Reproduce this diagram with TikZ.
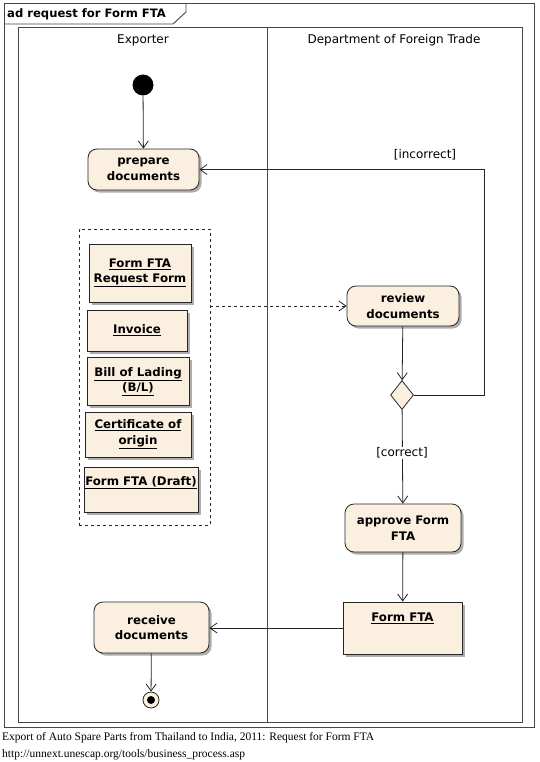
\documentclass[tikz,border=0pt]{standalone}
\usepackage{fontspec}
\setmainfont{DejaVu Sans}
\newfontfamily\capfont{Liberation Serif}
\usetikzlibrary{arrows.meta,shapes.geometric,shadows}
\definecolor{beige}{RGB}{251,240,224}
\definecolor{frameclr}{RGB}{70,70,70}
\tikzset{
  shd/.style={drop shadow={shadow xshift=2.5pt,shadow yshift=-2.5pt,fill=black!40,opacity=0.8}},
  action/.style={draw=black!85,line width=0.8pt,rounded corners=9pt,fill=beige,shd,
    inner sep=0pt,align=center,font=\bfseries\fontsize{11.8}{15.5}\selectfont},
  objbox/.style={draw=black!85,line width=0.8pt,fill=beige,shd,inner sep=0pt,
    align=center,font=\bfseries\fontsize{11.8}{15.5}\selectfont},
  objtxt/.style={inner sep=0pt,align=center,font=\bfseries\fontsize{11.8}{15.5}\selectfont},
  flow/.style={draw=black!85,line width=0.8pt,-{Straight Barb[length=7pt,width=10pt]}},
  guard/.style={font=\fontsize{12}{14}\selectfont,inner sep=1pt},
  lanehead/.style={font=\fontsize{12}{14}\selectfont,inner sep=0pt},
  frame/.style={draw=frameclr,line width=0.9pt},
  caption/.style={font=\capfont\fontsize{11.5}{13}\selectfont,inner sep=0pt,anchor=west}
}
\begin{document}
\begin{tikzpicture}[x=1pt,y=-1pt]
\useasboundingbox[fill=white] (0,0) rectangle (540,762);
% frames
\draw[frame] (4,3) rectangle (534,727);
\draw[frame] (18,27) rectangle (522,722);
\draw[frame] (267,27) -- (267,722);
\draw[frame] (4,24) -- (173,24) -- (186,12) -- (186,3);
\node[anchor=west,inner sep=0pt,font=\bfseries\fontsize{11.6}{14}\selectfont] (title) at (7,14) {ad request for Form FTA};
\node[lanehead] (lane1) at (143,40) {Exporter};
\node[lanehead] (lane2) at (394,40) {Department of Foreign Trade};
% start
\node[circle,fill=black,minimum size=21pt,inner sep=0pt] (start) at (143,85) {};
% actions
\node[action,minimum width=111pt,minimum height=41pt] (prep) at (143.5,169.5) {prepare\\documents};
\node[action,minimum width=112pt,minimum height=40pt] (review) at (403,306) {review\\documents};
\node[action,minimum width=116pt,minimum height=48pt] (approve) at (403,528) {approve Form\\FTA};
\node[action,minimum width=115pt,minimum height=51pt] (receive) at (151.5,627.5) {receive\\documents};
% object group
\node[draw=black!85,dashed,line width=0.8pt,minimum width=131pt,minimum height=296pt,inner sep=0pt] (dbox) at (144.5,377) {};
\node[objbox,minimum width=102pt,minimum height=58pt] (o1) at (140,273) {\underline{Form FTA}\\\underline{Request Form}};
\node[objbox,minimum width=100pt,minimum height=41pt] (o2) at (137,330.5) {\underline{Invoice}};
\node[objbox,minimum width=102pt,minimum height=48pt] (o3) at (138,381.5) {\underline{Bill of Lading}\\\underline{(B/L)}};
\node[objbox,minimum width=106pt,minimum height=45pt] (o4) at (138,434.5) {\underline{Certificate of}\\\underline{origin}};
\node[objbox,minimum width=114pt,minimum height=45pt] (o5) at (141,489.5) {};
\node[objtxt] (o5t) at (141,483) {\underline{Form FTA (Draft)}};
\node[objbox,minimum width=119pt,minimum height=52pt] (ofta) at (402.5,628) {};
\node[objtxt] (oftat) at (402.5,618) {\underline{Form FTA}};
% decision
\node[diamond,draw=black!85,line width=0.8pt,fill=beige,inner sep=0pt,minimum width=23pt,minimum height=29pt] (dec) at (402,395) {};
% end
\node[circle,draw=black!85,line width=0.8pt,fill=beige,minimum size=16pt,inner sep=0pt] (end) at (151,700) {};
\node[circle,fill=black,minimum size=8pt,inner sep=0pt] (enddot) at (end.center) {};
\coordinate (loopx) at (484,300);
% flows
\draw[flow] (start) -- (prep);
\draw[flow] (dec.east) -- (dec.east -| loopx) -- (prep.east -| loopx) -- (prep.east);
\node[guard] (incor) at (425,155) {[incorrect]};
\draw[flow,dashed] (dbox.east |- review.west) -- (review.west);
\draw[flow] (review) -- (dec);
\draw[flow] (dec) -- (approve);
\node[guard,fill=white] (cor) at (402,453) {[correct]};
\draw[flow] (approve) -- (ofta);
\draw[flow] (ofta.west) -- (receive.east |- ofta.west);
\draw[flow] (receive) -- (end);
% caption
\node[caption] (cap1) at (2,738) {Export of Auto Spare Parts from Thailand to India, 2011: Request for Form FTA};
\node[caption] (cap2) at (2,755) {http://unnext.unescap.org/tools/business\_process.asp};
\end{tikzpicture}
\end{document}
